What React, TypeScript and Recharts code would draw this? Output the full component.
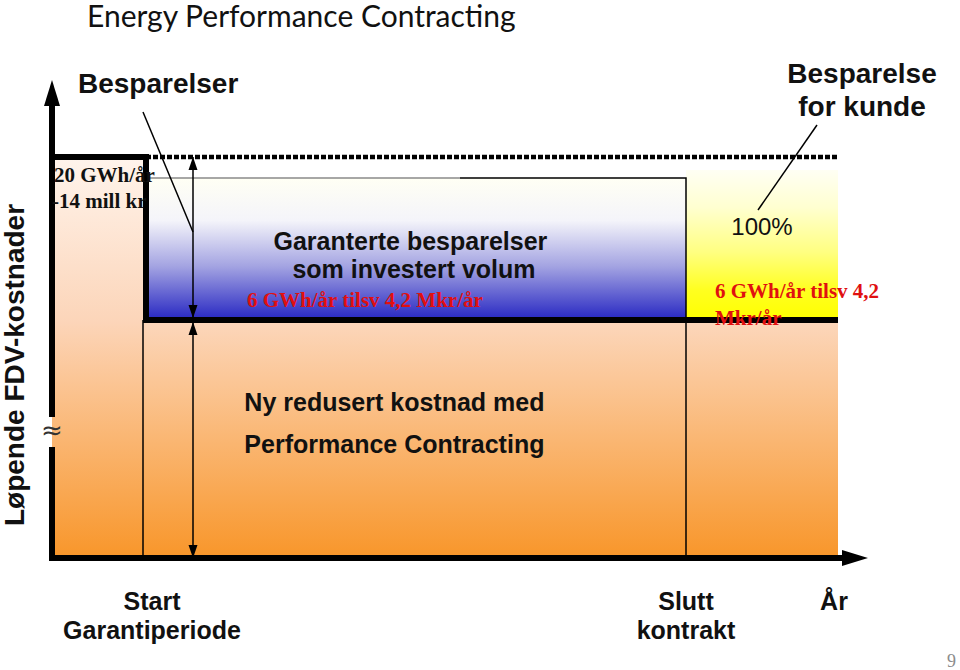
import React from "react";
import { ComposedChart, XAxis, YAxis, Line, Scatter, ReferenceArea } from "recharts";

// ---------- data (chart units: x = time axis 0..105, y = cost 0..100) ----------
const tickValues = [12.5, 79.25, 97.75];
const tickLabels = [["Start", "Garantiperiode"], ["Slutt", "kontrakt"], ["År"]];

const periodX = [0, 11.75, 79.25, 98.25]; // axis, start guarantee, end contract, horizon
const costY = [80.2, 47.6]; // cost before / after
const guaranteedTop = 76;
const customerTop = 77.6;

const costStep = [
  { x: 0, y: 80.2 },
  { x: 11.75, y: 80.2 },
  { x: 11.75, y: 47.6 },
  { x: 98.25, y: 47.6 },
];
const oldLevel = [
  { x: 11.75, y: 80.2 },
  { x: 98.25, y: 80.2 },
];
const guaranteeFrameGray = [
  { x: 11.75, y: 76 },
  { x: 51, y: 76 },
];
const guaranteeFrameBlack = [
  { x: 51, y: 76 },
  { x: 79.25, y: 76 },
  { x: 79.25, y: 0 },
];
const startMarker = [
  { x: 11.375, y: 47.6 },
  { x: 11.375, y: 0 },
];
const savingsSpan = [
  { x: 17.625, y: 80.2 },
  { x: 17.625, y: 48 },
];
const remainingSpan = [
  { x: 17.625, y: 47.2 },
  { x: 17.625, y: 0 },
];
const yAxisLower = [
  { x: 0, y: 0 },
  { x: 0, y: 21.6 },
];
const yAxisUpper = [
  { x: 0, y: 28.2 },
  { x: 0, y: 91 },
];
const xAxisLine = [
  { x: 0, y: 0 },
  { x: 99, y: 0 },
];
const leaderSavings = [
  { x: 11.375, y: 89.2 },
  { x: 17.625, y: 65.2 },
];
const leaderCustomer = [
  { x: 95.625, y: 86.6 },
  { x: 88.25, y: 69.6 },
];

const axisHeads = [
  { x: 0, y: 95.6, dir: "up" },
  { x: 102, y: 0, dir: "right" },
];
const spanHeads = [
  { x: 17.625, y: 80.2, dir: "up" },
  { x: 17.625, y: 48, dir: "down" },
  { x: 17.625, y: 47.2, dir: "up" },
  { x: 17.625, y: 0, dir: "down" },
];

const headingNotes = [
  { x: 3.25, y: 93, text: "Besparelser", anchor: "start" },
  { x: 101.25, y: 95, text: "Besparelse", anchor: "middle" },
  { x: 101.25, y: 88.4, text: "for kunde", anchor: "middle" },
];
const boxNotes = [
  { x: 44.8, y: 61.6, text: "Garanterte besparelser" },
  { x: 45.25, y: 56, text: "som investert volum" },
  { x: 42.8, y: 29.4, text: "Ny redusert kostnad med" },
  { x: 42.8, y: 21, text: "Performance Contracting" },
];
const percentNotes = [{ x: 88.75, y: 64.6, text: "100%" }];
const redNotes = [
  { x: 24.375, y: 50.2, text: "6 GWh/år tilsv 4,2 Mkr/år" },
  { x: 82.875, y: 52, text: "6 GWh/år tilsv 4,2" },
  { x: 82.875, y: 46.6, text: "Mkr/år" },
];
const baseNotes = [
  { x: 0.25, y: 75.2, text: "20 GWh/år" },
  { x: 0, y: 70, text: "-14 mill kr" },
];
const breakNotes = [{ x: 0, y: 23.8, text: "≈" }];

const titleText = "Energy Performance Contracting";
const pageNumber = "9";

// ---------- rendering helpers ----------
const SANS = "'Liberation Sans', Arial, sans-serif";
const SERIF = "'Liberation Serif', 'Times New Roman', serif";

const head = (len: number, half: number) => (p: any) => {
  const { cx, cy, payload } = p;
  let pts = "";
  if (payload.dir === "up") pts = `${cx},${cy} ${cx - half},${cy + len} ${cx + half},${cy + len}`;
  if (payload.dir === "down") pts = `${cx},${cy} ${cx - half},${cy - len} ${cx + half},${cy - len}`;
  if (payload.dir === "right") pts = `${cx},${cy} ${cx - len},${cy - half} ${cx - len},${cy + half}`;
  return <polygon points={pts} fill="#000" />;
};

const textShape = (style: any, anchor = "start") => (p: any) => {
  const { cx, cy, payload } = p;
  return (
    <text x={cx} y={cy} textAnchor={payload.anchor || anchor} {...style}>
      {payload.text}
    </text>
  );
};

const XTick = (props: any) => {
  const { x, y, payload } = props;
  const idx = tickValues.indexOf(payload.value);
  const lines = tickLabels[idx] || [];
  return (
    <g>
      {lines.map((t, i) => (
        <text
          key={i}
          x={x}
          y={y + 52 + i * 29}
          textAnchor="middle"
          fontFamily={SANS}
          fontWeight="bold"
          fontSize={25}
          fill="#111"
        >
          {t}
        </text>
      ))}
    </g>
  );
};

const YLabel = (props: any) => {
  const vb = props.viewBox || { x: 0, y: 58, width: 52, height: 500 };
  const cx = vb.x + 24;
  const cy = vb.y + vb.height * 0.614;
  return (
    <text
      transform={`translate(${cx},${cy}) rotate(-90)`}
      textAnchor="middle"
      fontFamily={SANS}
      fontWeight="bold"
      fontSize={28}
      fill="#111"
    >
      Løpende FDV-kostnader
    </text>
  );
};

const seg = (data: any[], stroke: string, width: number, extra: any = {}) => (
  <Line
    data={data}
    dataKey="y"
    type="linear"
    stroke={stroke}
    strokeWidth={width}
    dot={false}
    activeDot={false}
    isAnimationActive={false}
    legendType="none"
    {...extra}
  />
);

export default function App() {
  return (
    <div style={{ position: "absolute", left: 0, top: 0, width: 960, height: 670, background: "#fff" }}>
      <svg width={960} height={670} style={{ position: "absolute", left: 0, top: 0 }}>
        <text x={87} y={27} fontFamily="Lato, 'Open Sans', sans-serif" fontSize={30} fill="#111">
          {titleText}
        </text>
        <text x={947} y={667} fontFamily={SERIF} fontSize={18} fill="#8c8c8c">
          {pageNumber}
        </text>
      </svg>
      <div style={{ position: "absolute", left: 0, top: 0 }}>
        <ComposedChart width={960} height={670} margin={{ top: 58, right: 68, bottom: 0, left: 0 }}>
          <defs>
            <linearGradient id="gPeach" x1="0" y1="0" x2="0" y2="1">
              <stop offset="0" stopColor="#fff4ec" />
              <stop offset="0.41" stopColor="#fcd5b9" />
              <stop offset="1" stopColor="#f8962a" />
            </linearGradient>
            <linearGradient id="gOrange" x1="0" y1="0" x2="0" y2="1">
              <stop offset="0" stopColor="#fcd7bc" />
              <stop offset="1" stopColor="#f8962a" />
            </linearGradient>
            <linearGradient id="gBlue" x1="0" y1="0" x2="0" y2="1">
              <stop offset="0" stopColor="#fffff4" />
              <stop offset="0.3" stopColor="#f4f4fa" />
              <stop offset="0.62" stopColor="#a4a4e2" />
              <stop offset="1" stopColor="#2626c2" />
            </linearGradient>
            <linearGradient id="gYellow" x1="0" y1="0" x2="0" y2="1">
              <stop offset="0" stopColor="#fffff4" />
              <stop offset="0.25" stopColor="#ffffd0" />
              <stop offset="0.55" stopColor="#ffff80" />
              <stop offset="0.8" stopColor="#ffff20" />
              <stop offset="1" stopColor="#ffff00" />
            </linearGradient>
          </defs>
          <XAxis
            type="number"
            dataKey="x"
            domain={[0, 105]}
            ticks={tickValues}
            interval={0}
            tick={<XTick />}
            axisLine={false}
            tickLine={false}
            tickSize={0}
            tickMargin={0}
            height={112}
          />
          <YAxis
            type="number"
            dataKey="y"
            domain={[0, 100]}
            width={52}
            tick={false}
            axisLine={false}
            tickLine={false}
            label={<YLabel />}
          />
          <ReferenceArea x1={periodX[0]} x2={periodX[1]} y1={0} y2={costY[0]} fill="url(#gPeach)" fillOpacity={1} stroke="none" />
          <ReferenceArea x1={periodX[1]} x2={periodX[3]} y1={0} y2={costY[1]} fill="url(#gOrange)" fillOpacity={1} stroke="none" />
          <ReferenceArea x1={periodX[1]} x2={periodX[2]} y1={costY[1]} y2={guaranteedTop} fill="url(#gBlue)" fillOpacity={1} stroke="none" />
          <ReferenceArea x1={periodX[2]} x2={periodX[3]} y1={costY[1]} y2={customerTop} fill="url(#gYellow)" fillOpacity={1} stroke="none" />

          {seg(guaranteeFrameGray, "#8a8a8a", 1.5)}
          {seg(guaranteeFrameBlack, "#000", 1.5)}
          {seg(startMarker, "#000", 1.5)}
          {seg(savingsSpan, "#000", 1.5)}
          {seg(remainingSpan, "#000", 1.5)}
          {seg(leaderSavings, "#000", 1.5)}
          {seg(leaderCustomer, "#000", 1.5)}
          {seg(oldLevel, "#000", 4.5, { strokeDasharray: "5 2" })}
          {seg(costStep, "#000", 6)}
          {seg(yAxisLower, "#000", 6, { strokeLinecap: "square" })}
          {seg(yAxisUpper, "#000", 6)}
          {seg(xAxisLine, "#000", 6, { strokeLinecap: "square" })}

          <Scatter data={axisHeads} shape={head(26, 8)} isAnimationActive={false} legendType="none" />
          <Scatter data={spanHeads} shape={head(13, 4.5)} isAnimationActive={false} legendType="none" />

          <Scatter
            data={headingNotes}
            shape={textShape({ fontFamily: SANS, fontWeight: "bold", fontSize: 28, fill: "#111" })}
            isAnimationActive={false}
            legendType="none"
          />
          <Scatter
            data={boxNotes}
            shape={textShape({ fontFamily: SANS, fontWeight: "bold", fontSize: 25, fill: "#111" }, "middle")}
            isAnimationActive={false}
            legendType="none"
          />
          <Scatter
            data={percentNotes}
            shape={textShape({ fontFamily: SANS, fontSize: 24, fill: "#111" }, "middle")}
            isAnimationActive={false}
            legendType="none"
          />
          <Scatter
            data={redNotes}
            shape={textShape({ fontFamily: SERIF, fontWeight: "bold", fontSize: 21, fill: "#e01010" })}
            isAnimationActive={false}
            legendType="none"
          />
          <Scatter
            data={baseNotes}
            shape={textShape({ fontFamily: SERIF, fontWeight: "bold", fontSize: 21, fill: "#111" })}
            isAnimationActive={false}
            legendType="none"
          />
          <Scatter
            data={breakNotes}
            shape={textShape({ fontFamily: "'DejaVu Sans', sans-serif", fontSize: 26, fill: "#333" }, "middle")}
            isAnimationActive={false}
            legendType="none"
          />
        </ComposedChart>
      </div>
    </div>
  );
}
